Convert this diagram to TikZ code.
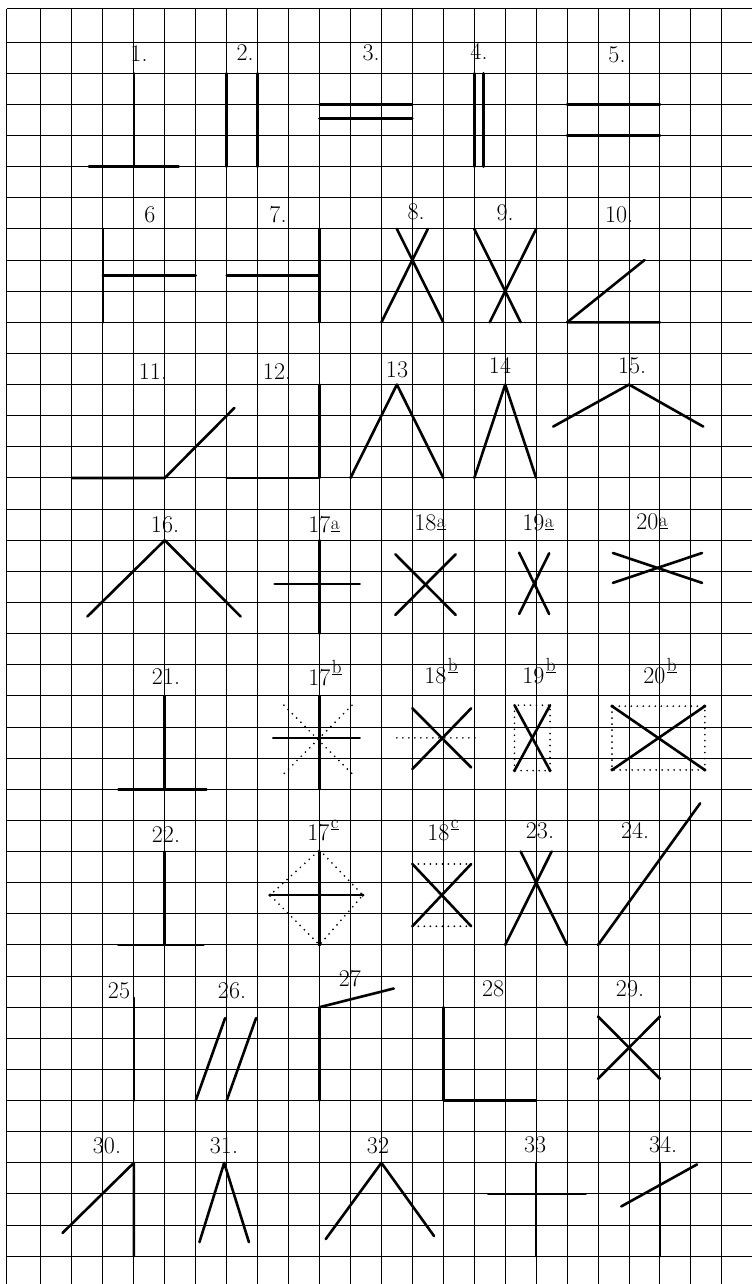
\documentclass[tikz,border=0pt]{standalone}
\usepackage{fontspec}
\newcommand\lowsup[1]{\kern0.5pt\raisebox{0.1em}{\fontsize{19}{20}\selectfont\underline{#1}}}
\newcommand\highsup[1]{\kern1.5pt\raisebox{0.5em}{\fontsize{19}{20}\selectfont\underline{#1}}}
\tikzset{
  gridline/.style={line width=1pt, black},
  fig/.style={line width=2.6pt, line cap=round, line join=round},
  dots/.style={line width=1.9pt, line cap=round, dash pattern=on 0pt off 6pt},
  lab/.style={anchor=base, inner sep=0pt, font=\fontsize{24}{26}\selectfont},
  cdot/.style={circle, fill, inner sep=0pt, minimum size=3.5pt}
}
\begin{document}
\begin{tikzpicture}[x=30.95pt, y=-31.13pt]
\useasboundingbox (-0.3231,-0.3534) rectangle (23.9742,40.8925);
% grid paper
\draw[gridline] (-0.1,-0.065) -- (-0.1,40.8925);
\foreach \c in {1,...,23} \draw[gridline] (\c,-0.065) -- (\c,40.8925);
\draw[gridline] (-0.1,-0.065) -- (23.9742,-0.065);
\foreach \r in {1,...,40} \draw[gridline] (-0.1,\r) -- (23.9742,\r);

% labels
\node[lab] (l1) at (4.168,1.638) {1.};
\node[lab] (l2) at (7.593,1.606) {2.};
\node[lab] (l3) at (11.664,1.606) {3.};
\node[lab] (l4) at (15.153,1.542) {4.};
\node[lab] (l5) at (19.612,1.670) {5.};
\node[lab] (l6) at (4.523,6.778) {6};
\node[lab] (l7) at (8.659,6.778) {7.};
\node[lab] (l8) at (13.118,6.682) {8.};
\node[lab] (l9) at (15.994,6.714) {9.};
\node[lab] (l10) at (19.677,6.778) {10.};
\node[lab] (l11) at (4.620,11.853) {11.};
\node[lab] (l12) at (8.627,11.853) {12.};
\node[lab] (l13) at (12.504,11.757) {13};
\node[lab] (l14) at (15.832,11.629) {14};
\node[lab] (l15) at (20.097,11.629) {15.};
\node[lab] (l16) at (5.008,16.736) {16.};
\node[lab] (l17a) at (10.145,16.736) {17\lowsup{a}};
\node[lab] (l18a) at (13.570,16.672) {18\lowsup{a}};
\node[lab] (l19a) at (17.060,16.672) {19\lowsup{a}};
\node[lab] (l20a) at (20.743,16.640) {20\lowsup{a}};
\node[lab] (l21) at (5.040,21.619) {21.};
\node[lab] (l17b) at (10.178,21.651) {17\highsup{b}};
\node[lab] (l18b) at (13.926,21.587) {18\highsup{b}};
\node[lab] (l19b) at (17.092,21.587) {19\highsup{b}};
\node[lab] (l20b) at (21.002,21.587) {20\highsup{b}};
\node[lab] (l22) at (5.040,26.695) {22.};
\node[lab] (l17c) at (10.113,26.630) {17\highsup{c}};
\node[lab] (l18c) at (13.990,26.630) {18\highsup{c}};
\node[lab] (l23) at (17.124,26.566) {23.};
\node[lab] (l24) at (20.194,26.566) {24.};
\node[lab] (l25) at (3.522,31.706) {25};
\node[lab] (l26) at (7.173,31.706) {26.};
\node[lab] (l27) at (10.985,31.320) {27};
\node[lab] (l28) at (15.606,31.642) {28};
\node[lab] (l29) at (20.032,31.642) {29.};
\node[lab] (l30) at (3.134,36.685) {30.};
\node[lab] (l31) at (6.914,36.685) {31.};
\node[lab] (l32) at (11.890,36.685) {32};
\node[lab] (l33) at (16.963,36.653) {33};
\node[lab] (l34) at (21.099,36.653) {34.};

% figures
% 1
\draw[fig] (4,2) -- (4,5); \draw[fig] (2.55,5) -- (5.45,5);
% 2
\draw[fig] (7,2) -- (7,5); \draw[fig] (8,2) -- (8,5);
% 3
\draw[fig] (10,3) -- (13,3); \draw[fig] (10,3.45) -- (13,3.45);
% 4
\draw[fig] (15,2) -- (15,5); \draw[fig] (15.3,2) -- (15.3,5);
% 5
\draw[fig] (18,3) -- (21,3); \draw[fig] (18,4) -- (21,4);
% 6
\draw[fig] (3,7) -- (3,10); \draw[fig] (3,8.5) -- (6,8.5);
% 7
\draw[fig] (10,7) -- (10,10); \draw[fig] (7,8.5) -- (10,8.5);
% 8
\draw[fig] (12.5,7) -- (14,10); \draw[fig] (13.5,7) -- (12,10);
% 9
\draw[fig] (15,7) -- (16.5,10); \draw[fig] (17,7) -- (15.5,10);
% 10
\draw[fig] (20.5,8) -- (18,10) -- (21,10);
% 11
\draw[fig] (2,15) -- (5,15) -- (7.25,12.75);
% 12
\draw[fig] (7,15) -- (10,15) -- (10,12);
% 13
\draw[fig] (11,15) -- (12.5,12) -- (14,15);
% 14
\draw[fig] (15,15) -- (16,12) -- (17,15);
% 15
\draw[fig] (17.55,13.35) -- (20,12) -- (22.4,13.35);
% 16
\draw[fig] (2.5,19.45) -- (5,17) -- (7.45,19.45);
% 17a
\draw[fig] (10,17) -- (10,20); \draw[fig] (8.55,18.4) -- (11.3,18.4);
% 18a
\draw[fig] (12.45,17.45) -- (14.4,19.4); \draw[fig] (14.4,17.45) -- (12.45,19.4);
% 19a
\draw[fig] (16.45,17.4) -- (17.42,19.37); \draw[fig] (17.42,17.42) -- (16.45,19.37);
% 20a
\draw[fig] (19.48,17.41) -- (22.36,18.37); \draw[fig] (19.48,18.37) -- (22.36,17.41);
% 21
\draw[fig] (5,22) -- (5,25); \draw[fig] (3.5,25) -- (6.35,25);
% 17b
\draw[dots] (8.85,22.3) -- (11.05,24.5); \draw[dots] (11.05,22.3) -- (8.85,24.5);
\draw[fig] (10,22) -- (10,25); \draw[fig] (8.5,23.35) -- (11.3,23.35);
% 18b
\draw[dots] (12.5,23.35) -- (15.15,23.35);
\draw[fig] (13,22.4) -- (14.9,24.3); \draw[fig] (14.9,22.4) -- (13,24.35);
% 19b
\draw[dots] (16.3,22.3) rectangle (17.45,24.4);
\draw[fig] (16.3,22.3) -- (17.45,24.4); \draw[fig] (17.45,22.3) -- (16.3,24.4);
\foreach \p in {(16.3,24.4),(17.45,24.4)} \node[cdot] at \p {};
% 20b
\draw[dots] (19.45,22.33) rectangle (22.45,24.38);
\draw[fig] (19.45,22.33) -- (22.45,24.38); \draw[fig] (22.45,22.33) -- (19.45,24.38);
\foreach \p in {(19.45,22.33),(22.45,22.33),(19.45,24.38),(22.45,24.38)} \node[cdot] at \p {};
% 22
\draw[fig] (5,27) -- (5,30); \draw[fig] (3.5,30) -- (6.25,30);
% 17c
\draw[dots] (10,26.95) -- (11.4,28.4) -- (10,30) -- (8.4,28.4) -- cycle;
\draw[fig] (10,27) -- (10,30); \draw[fig] (8.4,28.4) -- (11.4,28.4);
\foreach \p in {(8.4,28.4),(11.4,28.4),(10,30)} \node[cdot] at \p {};
% 18c
\draw[dots] (13,27.4) -- (14.9,27.4); \draw[dots] (13,29.4) -- (14.9,29.4);
\draw[fig] (13,27.4) -- (14.9,29.4); \draw[fig] (14.9,27.4) -- (13,29.4);
% 23
\draw[fig] (16,30) -- (17.5,27); \draw[fig] (18,30) -- (16.5,27);
% 24
\draw[fig] (19,30) -- (22.3,25.45);
% 25
\draw[fig] (4,31.7) -- (4,35);
% 26
\draw[fig] (6,35) -- (6.95,32.35); \draw[fig] (7,35) -- (7.95,32.35);
% 27
\draw[fig] (10,35) -- (10,32) -- (12.4,31.4);
% 28
\draw[fig] (14,32) -- (14,35) -- (17,35);
% 29
\draw[fig] (19,32.3) -- (21,34.3); \draw[fig] (21,32.3) -- (19,34.3);
% 30
\draw[fig] (1.7,39.25) -- (4,37) -- (4,40);
% 31
\draw[fig] (6.12,39.55) -- (6.92,37) -- (7.72,39.55);
% 32
\draw[fig] (10.2,39.45) -- (12,37) -- (13.7,39.35);
% 33
\draw[fig] (17,37) -- (17,40); \draw[fig] (15.45,38) -- (18.6,38);
% 34
\draw[fig] (21,37) -- (21,40); \draw[fig] (19.75,38.4) -- (22.2,37.05);
\end{tikzpicture}
\end{document}
